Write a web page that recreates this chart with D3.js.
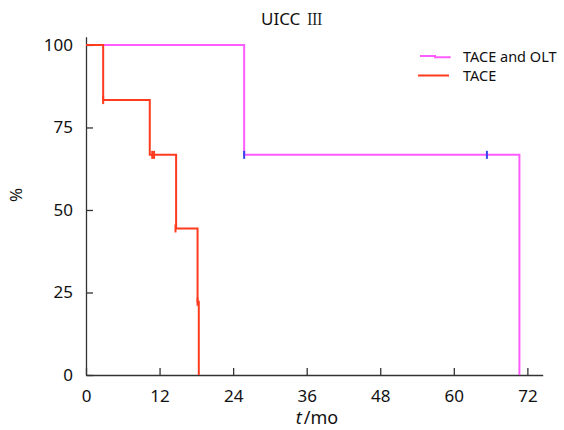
<!DOCTYPE html>
<html>
<head>
<meta charset="utf-8">
<script src="https://cdn.jsdelivr.net/npm/d3@7"></script>
<style>
  body { margin: 0; background: #fff; }
  svg { font-family: "Noto Sans", sans-serif; }
</style>
</head>
<body>
<svg width="564" height="430"></svg>
<script>
const svg = d3.select("svg");

// Kaplan-Meier steps (months, % surviving)
const oltTimes = [0, 25.8, 70.7];
const oltSurv = [100, 66.7, 0];
const oltCensorTimes = [25.8, 65.4];
const oltCensorSurv = [66.7, 66.7];

const taceTimes = [0, 2.8, 10.4, 14.7, 18.2, 18.4];
const taceSurv = [100, 83.3, 66.7, 44.4, 22.2, 0];
const taceCensorTimes = [2.8, 10.8, 11.1, 14.6, 18.2];
const taceCensorSurv = [83.3, 66.7, 66.7, 44.4, 22.2];

const xTicks = [0, 12, 24, 36, 48, 60, 72];
const yTicks = [0, 25, 50, 75, 100];
const seriesNames = ["TACE and OLT", "TACE"];

const x = d3.scaleLinear().domain([0, 74.5]).range([86, 542.7]);
const y = d3.scaleLinear().domain([0, 102.5]).range([375, 36.7]);

// Axes
const xAxis = svg.append("g")
  .attr("transform", "translate(0,375)")
  .call(d3.axisBottom(x).tickValues(xTicks).tickSizeInner(-7).tickSizeOuter(0).tickPadding(15));
const yAxis = svg.append("g")
  .attr("transform", "translate(86,0)")
  .call(d3.axisLeft(y).tickValues(yTicks).tickSizeInner(-7).tickSizeOuter(0).tickPadding(13));

[xAxis, yAxis].forEach(a => {
  a.selectAll("path, line").attr("stroke", "#333").attr("stroke-width", 1.3);
  a.selectAll("text").attr("font-size", 17).attr("fill", "#111")
    .attr("font-family", "'Noto Sans', sans-serif");
});

// Step curves
const stepLine = d3.line().curve(d3.curveStepAfter).x(d => x(d[0])).y(d => y(d[1]));

function drawCurve(times, surv, color) {
  const pts = times.map((t, i) => [t, surv[i]]);
  svg.append("path")
    .datum(pts)
    .attr("d", stepLine)
    .attr("fill", "none")
    .attr("stroke", color)
    .attr("stroke-width", 2);
}

function drawCensors(times, surv, color) {
  svg.append("g")
    .selectAll("line")
    .data(times.map((t, i) => [t, surv[i]]))
    .join("line")
    .attr("x1", d => x(d[0]))
    .attr("x2", d => x(d[0]))
    .attr("y1", d => y(d[1]) - 4)
    .attr("y2", d => y(d[1]) + 4)
    .attr("stroke", color)
    .attr("stroke-width", 2);
}

drawCurve(oltTimes, oltSurv, "#ff5cff");
drawCurve(taceTimes, taceSurv, "#ff3b1f");
drawCensors(oltCensorTimes, oltCensorSurv, "#3344ee");
drawCensors(taceCensorTimes, taceCensorSurv, "#ff3b1f");

// Title
const title = svg.append("text")
  .attr("x", 261).attr("y", 25)
  .attr("font-size", 17)
  .attr("fill", "#111");
title.append("tspan").text("UICC ");
title.append("tspan")
  .attr("font-family", "'Noto Serif CJK SC', 'Noto Sans CJK SC', serif")
  .attr("font-size", 16)
  .attr("dx", 2)
  .text("Ⅲ");

// Axis labels
const xl = svg.append("text")
  .attr("x", 317).attr("y", 424)
  .attr("text-anchor", "middle")
  .attr("font-size", 18)
  .attr("fill", "#111");
xl.append("tspan").attr("font-style", "italic").text("t");
xl.append("tspan").attr("dx", 2).text("/mo");

svg.append("text")
  .attr("transform", "translate(22,195) rotate(-90)")
  .attr("text-anchor", "middle")
  .attr("font-size", 17)
  .attr("fill", "#111")
  .text("%");

// Legend
const legendColors = ["#ff5cff", "#ff3b1f"];
const legend = svg.append("g");
legend.append("path")
  .attr("d", "M420,56H435V57.3H450.7")
  .attr("fill", "none").attr("stroke", legendColors[0]).attr("stroke-width", 2);
legend.append("line")
  .attr("x1", 418).attr("x2", 449).attr("y1", 75.5).attr("y2", 75.5)
  .attr("stroke", legendColors[1]).attr("stroke-width", 2);
legend.selectAll("text")
  .data(seriesNames)
  .join("text")
  .attr("x", 463)
  .attr("y", (d, i) => 62 + i * 19)
  .attr("font-size", 14.5)
  .attr("fill", "#111")
  .text(d => d);
</script>
</body>
</html>
